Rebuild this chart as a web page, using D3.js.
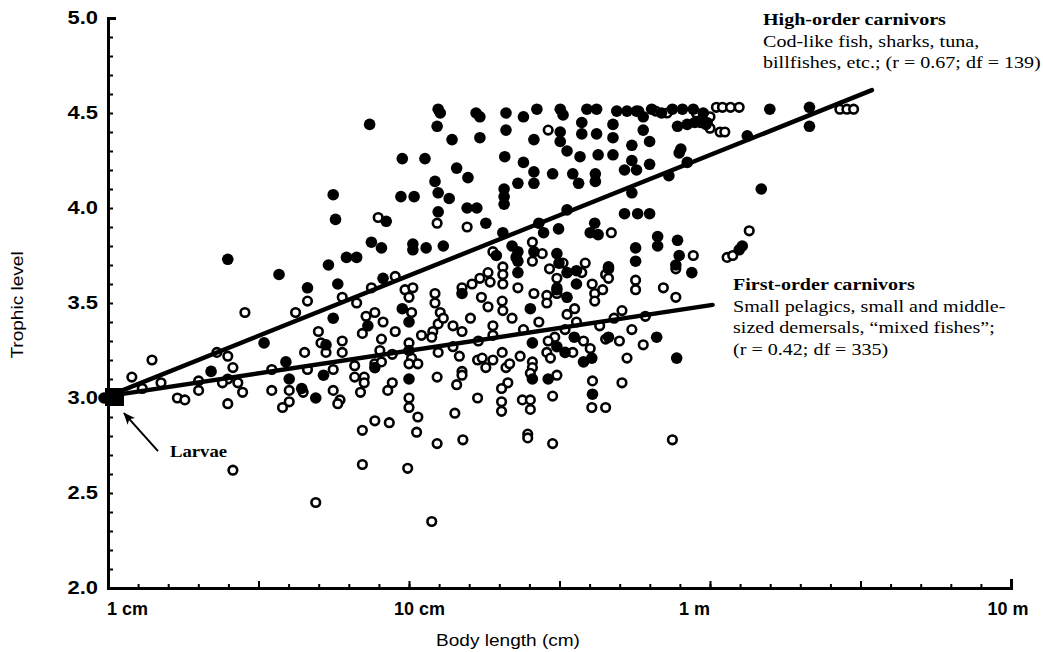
<!DOCTYPE html>
<html>
<head>
<meta charset="utf-8">
<script src="https://cdn.jsdelivr.net/npm/d3@7"></script>
<style>
  body { margin: 0; background: #fff; }
  svg { display: block; }
</style>
</head>
<body>
<svg id="chart" width="1043" height="652"></svg>
<script>
// body length (cm), trophic level -- filled circles
const highOrder = [
  [0.97, 3.0],
  [5.6, 4.07], [5.7, 3.94], [2.5, 3.73], [3.7, 3.65], [4.6, 3.58], [5.4, 3.70], [5.8, 3.60], [6.2, 3.74], [5.6, 3.42],
  [2.2, 3.14], [3.3, 3.29], [3.9, 3.19], [4.0, 3.10], [4.4, 3.05], [4.9, 3.00], [5.2, 3.12], [5.3, 3.28],
  [12.5, 4.52], [12.7, 4.50], [12.4, 4.43], [13.9, 4.36], [16.7, 4.50], [17.2, 4.48], [17.2, 4.37], [21, 4.50],
  [21, 4.41], [24, 4.48], [26.6, 4.52], [26, 4.36], [31.8, 4.52], [32.5, 4.49], [31.8, 4.40], [31.8, 4.35],
  [33.5, 4.30], [39, 4.52], [42, 4.52], [37.5, 4.45], [37.5, 4.39], [42, 4.39], [37, 4.27], [42.5, 4.28],
  [47.6, 4.28], [47.6, 4.44], [47.6, 4.37], [49, 4.51], [53, 4.51], [57, 4.51], [60, 4.48], [64, 4.52],
  [69, 4.50], [75, 4.52], [81, 4.52], [88, 4.52], [95, 4.50], [93, 4.45], [78, 4.43], [84, 4.44], [89, 4.45],
  [60, 4.41], [63, 4.35], [55, 4.33], [55, 4.25], [52, 4.20], [57, 4.20], [63, 4.23], [80, 4.31], [84, 4.24],
  [73, 4.17], [55, 4.08], [52, 3.97], [57.5, 3.97], [63, 3.97], [9.5, 4.26], [11.3, 4.26], [14.4, 4.21],
  [15.7, 4.16], [20.8, 4.27], [24, 4.24], [26, 4.19], [26, 4.13], [23, 4.13], [30, 4.18], [35, 4.18],
  [36.6, 4.13], [41.6, 4.18], [41.6, 4.14], [9.4, 4.06], [10.4, 4.06], [12.2, 4.14], [12.5, 4.08],
  [13.6, 4.05], [20.7, 4.10], [20.7, 4.06], [20.7, 4.02], [12.5, 3.98], [15.6, 4.00], [16.8, 4.00],
  [33.5, 3.99], [79, 4.29],
  [7.4, 4.44], [18, 3.92], [8.4, 3.93], [7.5, 3.82], [8.1, 3.79], [6.7, 3.74], [10.3, 3.81], [10.3, 3.78],
  [11.4, 3.79], [13, 3.80], [31.4, 3.89], [27, 3.92], [28, 3.87], [20.5, 3.87], [22, 3.80], [26, 3.77],
  [19.5, 3.75], [22.7, 3.74], [23, 3.66], [31, 3.76], [31.5, 3.71], [33.5, 3.66], [31, 3.57], [36, 3.67],
  [36, 3.60], [46, 3.69], [41.4, 3.92], [40, 3.87], [42.5, 3.86], [56.6, 3.79], [56.6, 3.72], [67, 3.85],
  [67, 3.80], [78, 3.83], [79, 3.75], [77, 3.70], [87, 3.66], [8.2, 3.63], [9.5, 3.47], [7.3, 3.38],
  [10, 3.40], [15, 3.55], [23, 3.77], [23, 3.72], [25.3, 3.47], [33.5, 3.53], [46, 3.68],
  [97, 4.44], [158, 4.52], [214, 4.53], [214, 4.43], [133, 4.38], [148, 4.10], [128, 3.80], [125, 3.78],
  [10, 3.25], [10, 3.10], [25.7, 3.29], [25.7, 3.10], [29, 3.10], [31, 3.27], [33, 3.24], [35.4, 3.32],
  [40.5, 3.21], [38, 3.19], [40.7, 3.02], [46, 3.32], [66.5, 3.32], [77.5, 3.21], [7.7, 3.16]
];

// body length (cm), trophic level -- open circles
const firstOrder = [
  [4.6, 3.51], [2.85, 3.45], [4.2, 3.45], [6.0, 3.53],
  [1.4, 3.20], [1.2, 3.11], [1.5, 3.08], [1.3, 3.05], [1.7, 3.00], [1.8, 2.99], [2.0, 3.09], [2.0, 3.04],
  [2.3, 3.24], [2.5, 3.22], [2.6, 3.16], [2.5, 3.10], [2.4, 3.08], [2.7, 3.08], [2.8, 3.03], [2.5, 2.97],
  [3.5, 3.15], [3.5, 3.04], [4.0, 3.04], [4.0, 2.98], [3.8, 2.95], [4.5, 3.24], [4.6, 3.15], [4.45, 3.03],
  [5.1, 3.29], [5.3, 3.24], [5.6, 3.04], [5.6, 3.15], [5.9, 2.99], [5.8, 2.97], [6.0, 3.24], [2.6, 2.62],
  [4.9, 2.45],
  [12.4, 3.92], [15.6, 3.90], [7.9, 3.95], [29, 4.41], [25.7, 3.82], [27.7, 3.76], [19, 3.77], [20.5, 3.69],
  [25.7, 3.72], [29.3, 3.68], [32.5, 3.71], [38.5, 3.71], [45, 3.65], [47, 3.87], [56.6, 3.62], [56.6, 3.57],
  [88, 3.75], [77, 3.68], [70, 3.58], [77, 3.53], [51, 3.46], [61, 3.43], [6.7, 3.50], [7.5, 3.58], [9, 3.64],
  [9.7, 3.57], [10.3, 3.58], [10, 3.53], [10.2, 3.45], [7.7, 3.45], [7.2, 3.43], [8.2, 3.40], [12.2, 3.55],
  [12.2, 3.50], [12.7, 3.45], [12.5, 3.39], [12, 3.35], [15, 3.58], [16.2, 3.60], [17.2, 3.63], [18.3, 3.66],
  [18.6, 3.61], [17.4, 3.53], [20.5, 3.65], [20.5, 3.60], [20.4, 3.51], [18.3, 3.48], [20.5, 3.46], [23, 3.58],
  [26, 3.55], [28.7, 3.54], [28.7, 3.50], [31, 3.63], [31, 3.58], [31, 3.55], [33.5, 3.44], [35.5, 3.47],
  [37.5, 3.66], [40.6, 3.60], [41.4, 3.55], [44, 3.57], [41.4, 3.51], [46, 3.63],
  [58, 4.51], [66, 4.51], [72, 4.50], [90, 4.50], [100, 4.48], [98, 4.45], [100, 4.42],
  [105, 4.53], [110, 4.53], [117, 4.53], [125, 4.53], [270, 4.52], [285, 4.52], [300, 4.52], [108, 4.40],
  [112, 4.40], [135, 3.88], [114, 3.74], [119, 3.75],
  [7, 3.34], [8.1, 3.31], [6.6, 3.17], [6.6, 3.11], [7.1, 3.11], [7.1, 3.08], [6.9, 3.03], [7.7, 3.18],
  [8.1, 3.19], [8.8, 3.23], [8.8, 3.08], [8.5, 3.04], [7.7, 2.88], [8.6, 2.87], [7, 2.83], [7, 2.65],
  [9.9, 2.63], [10, 3.29], [10.2, 3.21], [10, 3.18], [10.7, 3.18], [10, 3.00], [10, 2.95], [10.7, 2.90],
  [10.6, 2.82], [11, 3.33], [11.9, 3.32], [12.5, 3.24], [12.4, 3.11], [12.4, 2.76], [11.9, 2.35], [14, 3.27],
  [14.7, 3.22], [15, 3.14], [15, 3.12], [14.4, 3.07], [14.2, 2.92], [15.1, 2.78], [15, 3.35], [16.9, 3.20],
  [17.5, 3.21], [18, 3.16], [19, 3.20], [20.4, 3.24], [16.9, 3.00], [19, 3.33], [21, 3.16], [21.6, 3.18],
  [21.3, 3.08], [20.3, 3.05], [20.3, 2.98], [20.3, 2.93], [23.4, 3.22], [23.8, 2.99], [25.3, 2.99],
  [25.3, 2.94], [24.8, 2.81], [24.8, 2.79], [25.7, 3.19], [25.7, 3.16], [25.3, 3.13], [31, 3.12], [30, 3.01],
  [30, 2.76], [28.7, 3.24], [29.5, 3.21], [30.5, 3.32], [35, 3.24], [40, 3.26], [40.7, 3.09], [40.5, 2.95],
  [45, 2.95], [45, 3.31], [53, 3.21], [51, 3.08], [75, 2.78],
  [13, 3.42], [14, 3.38], [16, 3.42], [17, 3.30], [19, 3.38], [22, 3.42], [24, 3.36], [27, 3.40], [29, 3.30],
  [33, 3.36], [36, 3.40], [38, 3.30], [43, 3.38], [48, 3.42], [50, 3.30], [55, 3.36], [60, 3.28], [8, 3.25],
  [9, 3.35], [6, 3.30], [5, 3.35]
];

const larvae = [[1, 3.0]];
const highFit = [[1, 3.01], [345, 4.62]];
const firstFit = [[1, 3.01], [102, 3.49]];

const yTickLabels = [2.0, 2.5, 3.0, 3.5, 4.0, 4.5, 5.0];
const xTickValues = [1, 10, 100, 1000];
const xTickNames = ["1 cm", "10 cm", "1 m", "10 m"];

const highLabel = ["High-order carnivors", "Cod-like fish, sharks, tuna,", "billfishes, etc.; (r = 0.67; df = 139)"];
const firstLabel = ["First-order carnivors", "Small pelagics, small and middle-",
  "sized demersals, \u201cmixed fishes\u201d;", "(r = 0.42; df = 335)"];

const sans = "'Liberation Sans', Arial, Helvetica, sans-serif";
const serif = "'Liberation Serif', 'Times New Roman', serif";

// widen text horizontally (the figure is a bit stretched)
function stretch(sel, k) {
  sel.each(function () {
    let w = this.getComputedTextLength();
    d3.select(this).attr("textLength", w * k).attr("lengthAdjust", "spacingAndGlyphs");
  });
}

let svg = d3.select("#chart");

let x = d3.scaleLog().domain([1, 1000]).range([108, 1011]);
let y = d3.scaleLinear().domain([2, 5]).range([588, 18]);

let xMinor = d3.range(0, 31).map((i) => Math.pow(10, i / 10));
let xHalf = d3.range(0, 7).map((i) => Math.pow(10, i / 2));
let yMinor = d3.range(20, 51).map((i) => i / 10);

// y axis
svg.append("g")
  .attr("transform", "translate(" + x(1) + ",0)")
  .call(d3.axisLeft(y).tickValues(yMinor).tickSize(-5).tickSizeOuter(-8).tickFormat(""))
  .call((g) => g.select(".domain").attr("stroke-width", 3))
  .call((g) => g.selectAll(".tick line").attr("stroke-width", 2));

// x axis
svg.append("g")
  .attr("transform", "translate(0," + y(2) + ")")
  .call(d3.axisBottom(x).tickValues(xMinor).tickSize(-4).tickSizeOuter(-9).tickFormat(""))
  .call((g) => g.select(".domain").attr("stroke-width", 3))
  .call((g) => g.selectAll(".tick line").attr("stroke-width", 2));

svg.append("g")
  .attr("transform", "translate(0," + y(2) + ")")
  .call(d3.axisBottom(x).tickValues(xHalf).tickSize(-7).tickFormat(""))
  .call((g) => g.select(".domain").remove())
  .call((g) => g.selectAll(".tick line").attr("stroke-width", 2));

// y tick labels
let yLab = svg.append("g")
  .selectAll("text")
  .data(yTickLabels)
  .join("text")
  .attr("x", x(1) - 10)
  .attr("y", (d) => y(d))
  .attr("dy", "0.36em")
  .attr("text-anchor", "end")
  .style("font-family", sans)
  .style("font-weight", "bold")
  .style("font-size", "18px")
  .text((d) => d.toFixed(1));
stretch(yLab, 1.22);

// x tick labels
let xAnchor = ["start", "start", "end", "middle"];
let xShift = [-1, -15, 0, -3];
svg.append("g")
  .selectAll("text")
  .data(xTickValues)
  .join("text")
  .attr("x", (d, i) => x(d) + xShift[i])
  .attr("y", y(2) + 27)
  .attr("text-anchor", (d, i) => xAnchor[i])
  .style("font-family", sans)
  .style("font-weight", "bold")
  .style("font-size", "18px")
  .text((d, i) => xTickNames[i]);

// axis titles
let xTitle = svg.append("text")
  .attr("x", 508)
  .attr("y", 646)
  .attr("text-anchor", "middle")
  .style("font-family", sans)
  .style("font-size", "17px")
  .text("Body length (cm)");
stretch(xTitle, 1.12);

let yTitle = svg.append("text")
  .attr("transform", "translate(23,305) rotate(-90)")
  .attr("text-anchor", "middle")
  .style("font-family", sans)
  .style("font-size", "17px")
  .text("Trophic level");
stretch(yTitle, 1.12);

// points
svg.append("g")
  .selectAll("circle")
  .data(firstOrder)
  .join("circle")
  .attr("cx", (d) => x(d[0]))
  .attr("cy", (d) => y(d[1]))
  .attr("r", 4.3)
  .attr("fill", "#fff")
  .attr("stroke", "#000")
  .attr("stroke-width", 2.6);

svg.append("g")
  .selectAll("circle")
  .data(highOrder)
  .join("circle")
  .attr("cx", (d) => x(d[0]))
  .attr("cy", (d) => y(d[1]))
  .attr("r", 5.8)
  .attr("fill", "#000");

// regression lines
let line = d3.line().x((d) => x(d[0])).y((d) => y(d[1]));
[highFit, firstFit].forEach(function (fit) {
  svg.append("path")
    .datum(fit)
    .attr("fill", "none")
    .attr("stroke", "#000")
    .attr("stroke-width", 4.5)
    .attr("stroke-linecap", "round")
    .attr("d", line);
});

// larvae marker
svg.append("g")
  .selectAll("rect")
  .data(larvae)
  .join("rect")
  .attr("x", (d) => x(d[0]) - 3)
  .attr("y", (d) => y(d[1]) - 10)
  .attr("width", 19)
  .attr("height", 18)
  .attr("fill", "#000");

// arrow to larvae
svg.append("defs")
  .append("marker")
  .attr("id", "arrow")
  .attr("viewBox", "0 0 12 10")
  .attr("refX", 11)
  .attr("refY", 5)
  .attr("markerWidth", 12)
  .attr("markerHeight", 10)
  .attr("markerUnits", "userSpaceOnUse")
  .attr("orient", "auto")
  .append("path")
  .attr("d", "M0,0 L12,5 L0,10 L3,5 Z")
  .attr("fill", "#000");

svg.append("line")
  .attr("x1", x(1) + 50)
  .attr("y1", y(2.72))
  .attr("x2", x(1) + 16)
  .attr("y2", y(2.92))
  .attr("stroke", "#000")
  .attr("stroke-width", 2)
  .attr("marker-end", "url(#arrow)");

let larvaeText = svg.append("text")
  .attr("x", x(1) + 62)
  .attr("y", y(2.69))
  .style("font-family", serif)
  .style("font-weight", "bold")
  .style("font-size", "17px")
  .text("Larvae");
stretch(larvaeText, 1.1);

// group annotations
function annotate(lines, left, top) {
  let t = svg.append("g")
    .selectAll("text")
    .data(lines)
    .join("text")
    .attr("x", left)
    .attr("y", (d, i) => top + i * 21.5)
    .style("font-family", serif)
    .style("font-size", "17px")
    .style("font-weight", (d, i) => (i === 0 ? "bold" : "normal"))
    .text((d) => d);
  stretch(t, 1.18);
}
annotate(highLabel, 763, 25);
annotate(firstLabel, 733, 290);
</script>
</body>
</html>
